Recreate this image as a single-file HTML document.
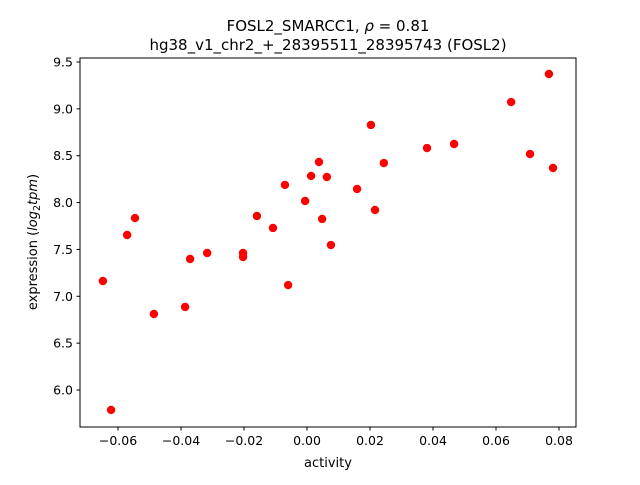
<!DOCTYPE html>
<html><head><meta charset="utf-8"><style>
body{margin:0;background:#fff;}
svg text{font-family:"DejaVu Sans","Liberation Sans",sans-serif;fill:#000;}
</style></head><body>
<svg id="chart" width="640" height="480">
<text x="328" y="31" text-anchor="middle" font-size="15">FOSL2_SMARCC1, <tspan font-style="italic">ρ</tspan> = 0.81</text>
<text x="328" y="50" text-anchor="middle" font-size="15">hg38_v1_chr2_+_28395511_28395743 (FOSL2)</text>
<g id="pts"></g>
<rect x="80" y="58" width="496" height="369" fill="none" stroke="#000" stroke-width="1"/>
<g id="axes"></g>
<text x="328" y="467" text-anchor="middle" font-size="13">activity</text>
<text transform="translate(37,242) rotate(-90)" text-anchor="middle" font-size="13">expression (<tspan font-style="italic">log</tspan><tspan font-size="9.5" dy="3">2</tspan><tspan dy="-3" font-style="italic">tpm</tspan>)</text>
</svg>
<script>
const xs=[-0.0648,-0.0622,-0.0571,-0.0546,-0.0486,-0.0387,-0.0371,-0.0317,-0.0203,-0.0203,-0.0159,-0.0108,-0.0070,-0.0060,-0.0006,0.0013,0.0038,0.0048,0.0063,0.0076,0.0159,0.0203,0.0216,0.0244,0.0381,0.0467,0.0648,0.0708,0.0768,0.0781];
const ys=[7.163,5.787,7.654,7.835,6.811,6.886,7.398,7.462,7.462,7.419,7.857,7.729,8.188,7.12,8.017,8.284,8.433,7.825,8.273,7.547,8.145,8.828,7.921,8.422,8.582,8.625,9.073,8.518,9.372,8.369];
const xTicks=[-0.06,-0.04,-0.02,0.00,0.02,0.04,0.06,0.08];
const xTickLabels=["−0.06","−0.04","−0.02","0.00","0.02","0.04","0.06","0.08"];
const yTicks=[6.0,6.5,7.0,7.5,8.0,8.5,9.0,9.5];
const yTickLabels=["6.0","6.5","7.0","7.5","8.0","8.5","9.0","9.5"];
const X=v=>307+v*3150;
const Y=v=>390-(v-6.0)*93.714;
const NS="http://www.w3.org/2000/svg";
const pts=document.getElementById('pts'),ax=document.getElementById('axes');
function mk(t,a,p){const e=document.createElementNS(NS,t);for(const k in a)e.setAttribute(k,a[k]);p.appendChild(e);return e;}
xs.forEach((x,i)=>{const c=mk('circle',{cx:X(x),cy:Y(ys[i]),r:4.2,fill:'#ff0000'},pts);

});
xTicks.forEach((t,i)=>{const l=mk('line',{x1:X(t),x2:X(t),y1:427,y2:430.5,stroke:'#000'},ax);


const tx=mk('text',{x:X(t),y:445,'text-anchor':'middle','font-size':'12.5'},ax);tx.textContent=xTickLabels[i];

});
yTicks.forEach((t,i)=>{const l=mk('line',{x1:76.5,x2:80,y1:Y(t),y2:Y(t),stroke:'#000'},ax);


const tx=mk('text',{x:73,y:Y(t)+4.5,'text-anchor':'end','font-size':'12.5'},ax);tx.textContent=yTickLabels[i];

});
</script>
</body></html>
